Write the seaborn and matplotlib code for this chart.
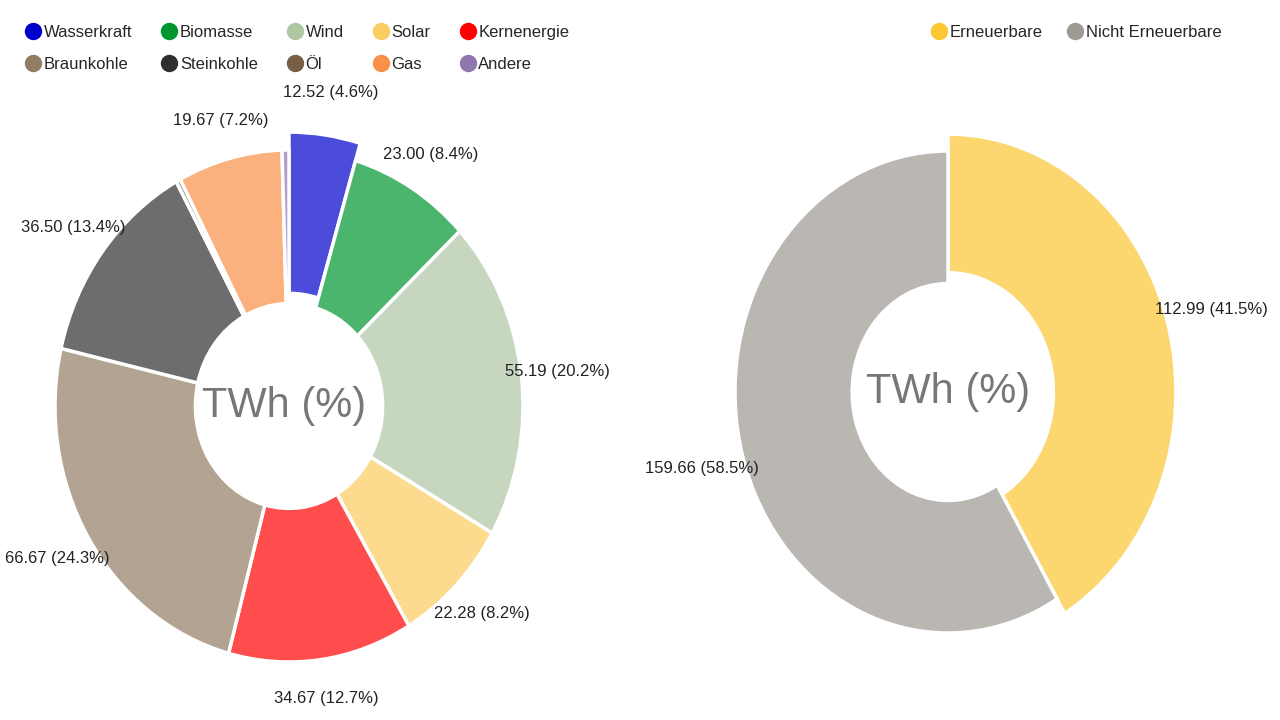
import numpy as np
import seaborn as sns
import matplotlib.pyplot as plt
from matplotlib.colors import to_rgba
from matplotlib.lines import Line2D

sns.set_theme(style='white')
plt.rcParams['font.family'] = ['Liberation Sans', 'DejaVu Sans']

# left donut: sources (TWh), clockwise from 12 o'clock
sources = ['Wasserkraft', 'Biomasse', 'Wind', 'Solar', 'Kernenergie',
           'Braunkohle', 'Steinkohle', 'Öl', 'Gas', 'Andere']
source_twh = [12.52, 23.00, 55.19, 22.28, 34.67, 66.67, 36.50, 0.85, 19.67, 1.30]
source_pct = [4.6, 8.4, 20.2, 8.2, 12.7, 24.3, 13.4, None, 7.2, None]
source_colors = ['#0000cc', '#00962f', '#b0c7a4', '#fbcc60', '#ff0000',
                 '#937c64', '#2f2f2f', '#785f46', '#f99046', '#9077b0']

# right donut: renewable vs. non-renewable
groups = ['Erneuerbare', 'Nicht Erneuerbare']
group_twh = [112.99, 159.66]
group_pct = [41.5, 58.5]
group_colors = ['#fbc732', '#9d9993']

fig = plt.figure(figsize=(12.8, 7.2), dpi=100)


def donut(ax, values, colors, pct, inner, highlight, label_dist, text_dx=0.0):
    fills = [to_rgba(c, 0.7) for c in colors]
    wedges, _ = ax.pie(values, colors=fills, startangle=90, counterclock=False,
                       radius=1.0,
                       wedgeprops=dict(width=1.0 - inner, edgecolor='white',
                                       linewidth=2.5))
    for i, w in enumerate(wedges):
        r = 1.0
        if i == highlight:
            r = 1.07
            w.set_radius(r)
            w.set_width(r - inner * 1.1)
        if pct[i] is None:
            continue
        mid = np.deg2rad((w.theta1 + w.theta2) / 2)
        ax.text(np.cos(mid) * r * label_dist, np.sin(mid) * r * label_dist,
                f'{values[i]:.2f} ({pct[i]:.1f}%)', ha='center', va='center',
                fontsize=12, color='#222222')
    ax.text(text_dx, 0, 'TWh (%)', ha='center', va='center', fontsize=30, color='#777777')
    ax.set_aspect('auto')
    ax.axis('off')


# left chart: centre ~ (289, 406) px, radii 234 x 256 px
ax1 = fig.add_axes([0, 0, 0.5, 1])
donut(ax1, source_twh, source_colors, source_pct, inner=0.40, highlight=0,
      label_dist=1.155, text_dx=-0.02)
ax1.set_xlim(-289 / 234, 351 / 234)
ax1.set_ylim(-314 / 256, 406 / 256)

# right chart: centre ~ (948, 392) px, radii 213 x 241 px
ax2 = fig.add_axes([0.5, 0, 0.5, 1])
donut(ax2, group_twh, group_colors, group_pct, inner=0.45, highlight=0, label_dist=1.2)
ax2.set_xlim(-308 / 213, 332 / 213)
ax2.set_ylim(-328 / 241, 392 / 241)

# legends (row-wise order for the 5-column legend)
def handle(c):
    return Line2D([], [], marker='o', linestyle='', markersize=11.5,
                  markerfacecolor=c, markeredgecolor=c)

order = [0, 5, 1, 6, 2, 7, 3, 8, 4, 9]
fig.legend([handle(source_colors[i]) for i in order], [sources[i] for i in order],
           ncol=5, loc='upper left', bbox_to_anchor=(0.019, 0.965), frameon=False,
           fontsize=12, handlelength=1.0, handletextpad=0.15, columnspacing=1.72,
           labelspacing=0.98, borderpad=0, borderaxespad=0)
fig.legend([handle(c) for c in group_colors], groups,
           ncol=2, loc='upper left', bbox_to_anchor=(0.727, 0.965), frameon=False,
           fontsize=12, handlelength=1.0, handletextpad=0.15, columnspacing=1.45,
           borderpad=0, borderaxespad=0)

fig.savefig('out.png', dpi=100)
